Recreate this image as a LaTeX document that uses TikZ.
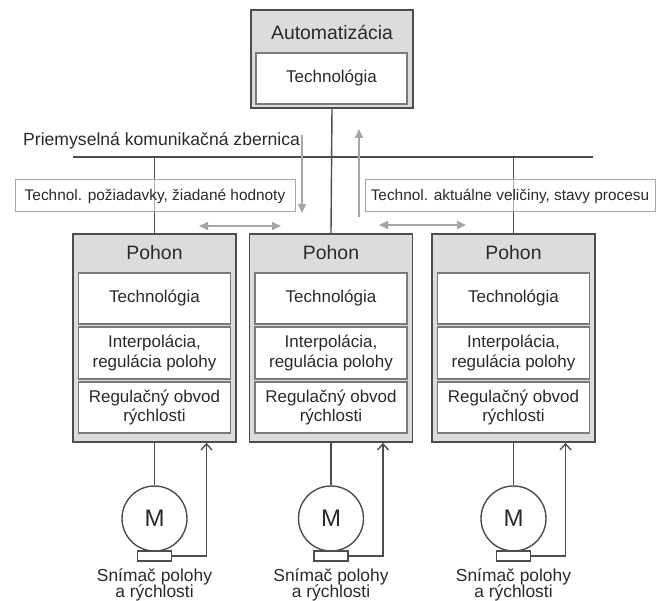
\documentclass[tikz,border=0pt]{standalone}
\usepackage{fontspec}
\setmainfont{Liberation Sans}
\usetikzlibrary{arrows.meta,calc}
\definecolor{dline}{HTML}{4D4D4D}
\definecolor{bfill}{HTML}{DCDCDC}
\definecolor{iline}{HTML}{7A7A7A}
\definecolor{garrow}{HTML}{A6A6A6}
\definecolor{txt}{HTML}{2A2A2A}
\tikzset{
  outerbox/.style={draw=dline, line width=1.8pt, fill=bfill, rectangle, inner sep=0pt},
  innerbox/.style={draw=iline, line width=1.2pt, fill=white, rectangle, inner sep=0pt, align=center, text=txt,
     font=\fontsize{17}{19.5}\selectfont},
  titletext/.style={text=txt, inner sep=0pt, font=\fontsize{19.4}{22}\selectfont},
  conn/.style={draw=dline, line width=1.4pt},
  fbk/.style={draw=dline, line width=1.4pt, -{Straight Barb[length=6pt,width=11pt,line width=1.4pt]}},
  garr/.style={draw=garrow, line width=2pt, -{Triangle[length=9pt,width=8pt]}},
  garr2/.style={draw=garrow, line width=2pt, {Triangle[length=9pt,width=8pt]}-{Triangle[length=9pt,width=8pt]}},
  lblbox/.style={draw=garrow, line width=1pt, fill=white, fill opacity=0.55, text opacity=1, rectangle, inner sep=0pt,
     text=txt, font=\fontsize{15.4}{18}\selectfont},
  motor/.style={circle, draw=dline, line width=1.4pt, fill=white, minimum size=65pt, inner sep=0pt, text=txt,
     font=\fontsize{24}{26}\selectfont},
  sensor/.style={rectangle, draw=dline, line width=1.2pt, fill=white, minimum width=34pt, minimum height=10pt, inner sep=0pt},
  sensortext/.style={align=center, text=txt, inner sep=0pt, font=\fontsize{17.4}{16.5}\selectfont},
}
\begin{document}
\begin{tikzpicture}[x=1pt,y=-1pt]
\useasboundingbox (0,0) rectangle (662,601);
% Automatization box
\node[outerbox, minimum width=162pt, minimum height=98pt] (auto) at (332,59) {};
\node[titletext] (autot) at (332,32) {Automatizácia};
\node[innerbox, minimum width=151pt, minimum height=51pt] (autotech) at (331.5,78.5) {Technológia};
% bus
\coordinate (busL) at (73,157);
\coordinate (busR) at (593,157);
\node[text=txt, inner sep=0pt, anchor=west, font=\fontsize{17.6}{20}\selectfont] (buslbl) at (23,141) {Priemyselná komunikačná zbernica};
% drives
\foreach \i/\x in {1/154.5,2/331,3/513.5}{
  \node[outerbox, minimum width=163pt, minimum height=208pt] (p\i) at (\x,338) {};
  \node[titletext] (pt\i) at (\x,253) {Pohon};
  \node[innerbox, minimum width=152pt, minimum height=51pt] (t\i) at (\x,298.5) {Technológia};
  \node[innerbox, minimum width=152pt, minimum height=52pt] (ip\i) at (\x,353) {Interpolácia,\\regulácia polohy};
  \node[innerbox, minimum width=152pt, minimum height=51pt] (r\i) at (\x,407.5) {Regulačný obvod\\rýchlosti};
  \node[motor] (m\i) at (\x,518.5) {M};
  \node[sensor] (s\i) at (\x,556) {};
  \node[sensortext] (st\i) at (\x,585) {Snímač polohy\\a rýchlosti};
  \coordinate (f\i) at ($(p\i.south)+(52,0)$);
  \draw[conn] (p\i.south) -- (m\i.north);
  \draw[fbk] (s\i.east) -| (f\i);
}
\draw[conn] (busL) -- (busR);
\draw[conn] (auto.south) -- (p2.north);
\draw[conn] (p1.north) -- (p1.north |- busL);
\draw[conn] (p3.north) -- (p3.north |- busL);
% labels
\node[lblbox, minimum width=280pt, minimum height=32pt] (lbl1) at (155,196) {Technol. požiadavky, žiadané hodnoty};
\node[lblbox, minimum width=290pt, minimum height=32pt] (lbl2) at (510,196) {Technol. aktuálne veličiny, stavy procesu};
% grey arrows
\coordinate (dA) at (302,135);
\coordinate (dB) at (302,213);
\coordinate (uA) at (359,217);
\coordinate (uB) at (359,129);
\coordinate (hL1) at (199,226);
\coordinate (hR1) at (281,226);
\coordinate (hL2) at (379,225);
\coordinate (hR2) at (466,225);
\draw[garr] (dA) -- (dB);
\draw[garr] (uA) -- (uB);
\draw[garr2] (hL1) -- (hR1);
\draw[garr2] (hL2) -- (hR2);
\end{tikzpicture}
\end{document}
